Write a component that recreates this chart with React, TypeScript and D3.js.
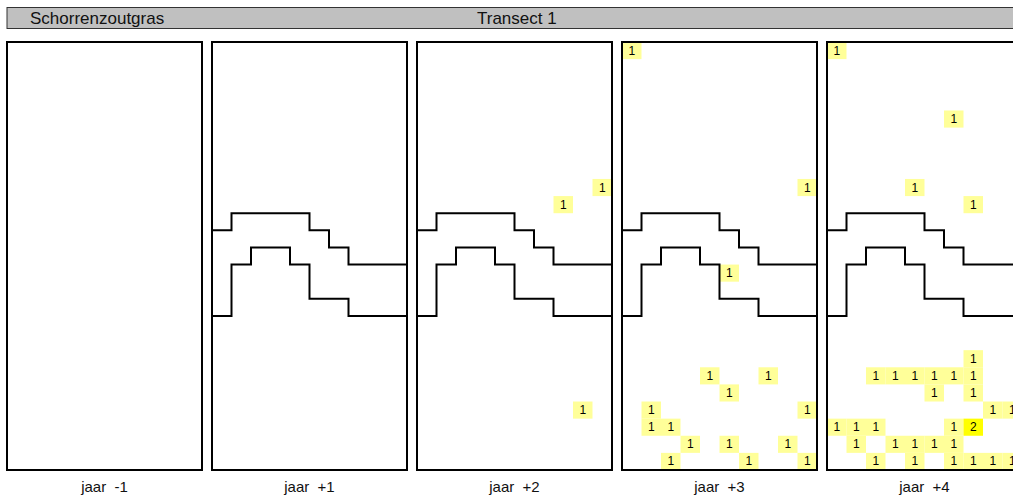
import * as d3 from 'd3';

// panel labels, one per survey year
const years = ['jaar  -1', 'jaar  +1', 'jaar  +2', 'jaar  +3', 'jaar  +4'];
const hasBoundary = [false, true, true, true, true];

// staircase boundaries (row index of the edge per column)
const upperEdge = [11, 10, 10, 10, 10, 11, 12, 13, 13, 13];
const lowerEdge = [16, 13, 12, 12, 13, 15, 15, 16, 16, 16];

// counted cells per year: [column, row, count]
const counts0: number[][] = [];
const counts1: number[][] = [];
const counts2: number[][] = [
  [9, 8, 1], [7, 9, 1], [8, 21, 1],
];
const counts3: number[][] = [
  [0, 0, 1], [9, 8, 1], [5, 13, 1],
  [4, 19, 1], [7, 19, 1], [5, 20, 1],
  [1, 21, 1], [9, 21, 1], [1, 22, 1], [2, 22, 1],
  [3, 23, 1], [5, 23, 1], [8, 23, 1],
  [2, 24, 1], [6, 24, 1], [9, 24, 1],
];
const counts4: number[][] = [
  [0, 0, 1], [6, 4, 1], [4, 8, 1], [7, 9, 1],
  [7, 18, 1],
  [2, 19, 1], [3, 19, 1], [4, 19, 1], [5, 19, 1], [6, 19, 1], [7, 19, 1],
  [5, 20, 1], [7, 20, 1],
  [8, 21, 1], [9, 21, 1],
  [0, 22, 1], [1, 22, 1], [2, 22, 1], [6, 22, 1], [7, 22, 2],
  [1, 23, 1], [3, 23, 1], [4, 23, 1], [5, 23, 1], [6, 23, 1],
  [2, 24, 1], [4, 24, 1], [6, 24, 1], [7, 24, 1], [8, 24, 1], [9, 24, 1],
];
const allCounts = [counts0, counts1, counts2, counts3, counts4];

const nCols = 10;
const nRows = 25;

const W = 1013;
const H = 499;
const panelW = 195;
const panelH = 428;
const panelTop = 42;

const panelX = d3.scaleLinear().domain([0, 1]).range([7, 212]);
const x = d3.scaleLinear().domain([0, nCols]).range([0, panelW]);
const y = d3.scaleLinear().domain([0, nRows]).range([0, panelH]);
const color = d3.scaleOrdinal<number, string>().domain([1, 2]).range(['#ffff99', '#ffff00']);

const stepLine = d3
  .line<number[]>()
  .x((d) => x(d[0]))
  .y((d) => y(d[1]))
  .curve(d3.curveStepAfter);

const edgePoints = (edge: number[]) => [
  ...edge.map((r, i) => [i, r]),
  [nCols, edge[edge.length - 1]],
];

const font = '"Liberation Sans", Arial, sans-serif';

export default function App() {
  return (
    <svg
      width={W}
      height={H}
      style={{ position: 'absolute', left: 0, top: 0, background: '#fff' }}
      fontFamily={font}
    >
      <rect x={7} y={7.5} width={W} height={21} fill="#c0c0c0" stroke="#333" strokeWidth={1} />
      <text x={30} y={24} fontSize={17} fill="#111">Schorrenzoutgras</text>
      <text x={477} y={24} fontSize={17} fill="#111">Transect 1</text>

      {years.map((label, i) => {
        const cells = allCounts[i];
        return (
          <g key={label} transform={`translate(${panelX(i)}, ${panelTop})`}>
            {cells.map(([c, r, v]) => (
              <g key={`${c}-${r}`}>
                <rect
                  x={x(c)}
                  y={y(r)}
                  width={x(c + 1) - x(c)}
                  height={y(r + 1) - y(r)}
                  fill={color(v)}
                />
                <text
                  x={(x(c) + x(c + 1)) / 2}
                  y={(y(r) + y(r + 1)) / 2}
                  textAnchor="middle"
                  dominantBaseline="central"
                  fontSize={12}
                  fill="#000"
                >
                  {v}
                </text>
              </g>
            ))}
            {hasBoundary[i] && (
              <g fill="none" stroke="#000" strokeWidth={2}>
                <path d={stepLine(edgePoints(upperEdge)) ?? ''} />
                <path d={stepLine(edgePoints(lowerEdge)) ?? ''} />
              </g>
            )}
            <rect x={0} y={0} width={panelW} height={panelH} fill="none" stroke="#000" strokeWidth={2} />
            <text
              x={panelW / 2}
              y={panelH + 22}
              textAnchor="middle"
              fontSize={15}
              fill="#111"
              style={{ whiteSpace: 'pre' }}
            >
              {label}
            </text>
          </g>
        );
      })}
    </svg>
  );
}
